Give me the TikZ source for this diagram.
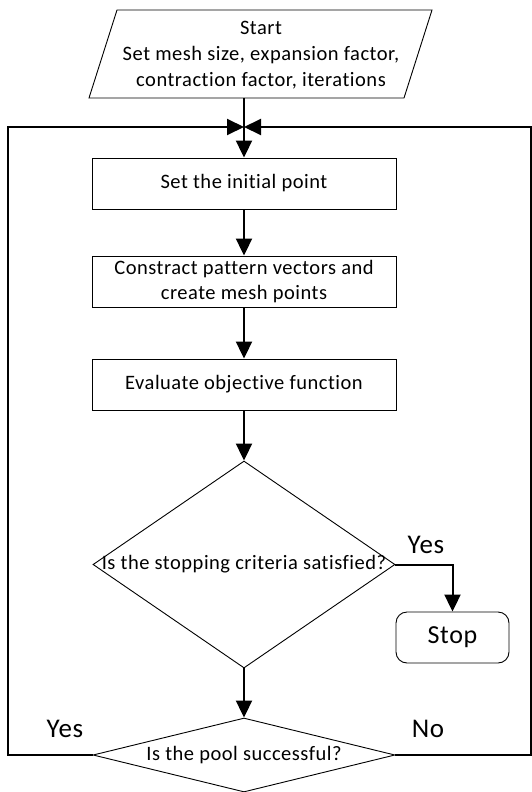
\documentclass[tikz,border=0pt]{standalone}
\usepackage{fontspec}
\setmainfont{Carlito}[Ligatures=NoCommon,LetterSpace=2.5]
\usetikzlibrary{arrows.meta,shapes.geometric}

\begin{document}
\begin{tikzpicture}[x=1pt,y=-1pt,
  outline/.style={draw=black,line width=0.9pt,fill=white},
  stepbox/.style={outline,rectangle,minimum width=304pt,minimum height=51pt,inner sep=0pt,
    align=center,font=\fontsize{20.5}{25}\selectfont},
  decision/.style={outline,diamond,inner sep=0pt,minimum width=302pt},
  endbox/.style={outline,rectangle,rounded corners=11pt,minimum width=113pt,minimum height=51pt,
    inner sep=0pt,font=\fontsize{26}{30}\selectfont},
  qtext/.style={font=\fontsize{20.5}{25}\selectfont},
  answer/.style={font=\fontsize{27}{30}\selectfont},
  flow/.style={line width=2pt,-{Triangle[length=17pt,width=16pt]}},
  plain/.style={line width=2pt}]
  \useasboundingbox (0,0) rectangle (532,792);

  % input: start and parameters
  \draw[outline] (117,10) -- (432,10) -- (404,98) -- (89,98) -- cycle;
  \node[align=center,font=\fontsize{20.5}{26}\selectfont] (start) at (261,55)
    {Start\\Set mesh size, expansion factor,\\contraction factor, iterations};
  \coordinate (startout) at (244,98);

  % main chain
  \node[stepbox] (init) at (244,183.5) {Set the initial point};
  \node[stepbox] (pattern) at (244,281.5) {Constract pattern vectors and\\create mesh points};
  \node[stepbox] (eval) at (244,384.5) {Evaluate objective function};
  \node[decision,minimum height=207pt,label={[qtext]center:Is the stopping criteria satisfied?}]
    (stopq) at (244,564.5) {};
  \node[decision,minimum height=74pt,label={[qtext]center:Is the pool successful?}]
    (poolq) at (244,755) {};
  \node[endbox] (stop) at (452.5,637.5) {Stop};

  % loop-back junction
  \coordinate (join) at (244,127);
  \coordinate (lc) at (8,127);
  \coordinate (rc) at (530.5,127);

  % connectors
  \draw[flow] (startout) -- (init.north);
  \draw[flow] (init.south) -- (pattern.north);
  \draw[flow] (pattern.south) -- (eval.north);
  \draw[flow] (eval.south) -- (stopq.north);
  \draw[flow] (stopq.south) -- (poolq.north);
  \draw[flow] (stopq.east) -| (stop.north);
  \draw[flow] (poolq.west) -| (lc) -- (join);
  \draw[flow] (poolq.east) -| (rc) -- (join);

  % branch labels
  \node[answer] (yesstop) at (426,545) {Yes};
  \node[answer] (yespool) at (65,729) {Yes};
  \node[answer] (nopool) at (428,729) {No};
\end{tikzpicture}
\end{document}
